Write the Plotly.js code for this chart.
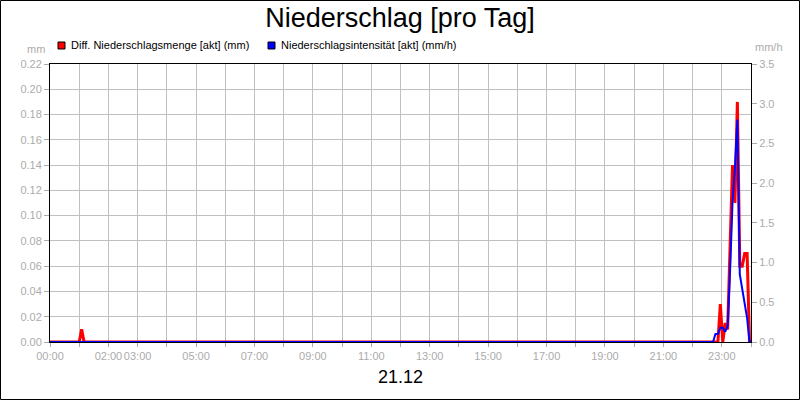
<!DOCTYPE html>
<html><head><meta charset="utf-8">
<script src="https://cdn.plot.ly/plotly-3.0.1.min.js"></script>
<style>html,body{margin:0;padding:0;background:#fff}#chart{width:800px;height:400px}</style>
</head><body><div id="chart"></div>
<script>
const chartTitle = 'Niederschlag [pro Tag]';
const dateLabel = '21.12';
const leftUnit = 'mm';
const rightUnit = 'mm/h';
const seriesNames = ['Diff. Niederschlagsmenge [akt] (mm)', 'Niederschlagsintensität [akt] (mm/h)'];

const amountTimes  = ['00:00','01:00','01:05','01:10','22:52','22:57','23:02','23:07','23:12','23:17','23:22','23:27','23:32','23:37','23:42','23:47','23:52','23:57','24:00'];
const amountValues = [0,      0,      0.01,   0,      0,      0.03,   0,      0.015,  0.01,   0.07,   0.14,   0.11,   0.19,   0.06,   0.06,   0.07,   0.07,   0,      0];

const intensityTimes  = ['00:00','22:42','22:47','22:52','22:57','23:02','23:07','23:12','23:17','23:22','23:27','23:32','23:37','23:42','23:47','23:52','23:57','24:00'];
const intensityValues = [0,      0,      0.1,    0.1,    0.18,   0.18,   0.13,   0.2,    0.9,    1.75,   2.2,    2.8,    0.85,   0.65,   0.5,    0.3,    0,      0];

const hourTicks = ['00:00','01:00','02:00','03:00','04:00','05:00','06:00','07:00','08:00','09:00','10:00','11:00','12:00','13:00','14:00','15:00','16:00','17:00','18:00','19:00','20:00','21:00','22:00','23:00','24:00'];
const shownTickLabels = ['00:00','02:00','03:00','05:00','07:00','09:00','11:00','13:00','15:00','17:00','19:00','21:00','23:00'];

const toMin = s => { const p = s.split(':'); return (+p[0]) * 60 + (+p[1]); };

// plot area geometry (pixels)
const L = 50, R = 751, T = 64, B = 342;
const px2x = px => (px - L) / (R - L);
const py2y = py => (B - py) / (B - T);

const font = 'Liberation Sans, Arial, sans-serif';
const gray = '#ababab';

const traces = [
  { x: intensityTimes.map(toMin), y: intensityValues, yaxis: 'y2', type: 'scatter', mode: 'lines',
    line: { color: '#0000ff', width: 2 }, name: seriesNames[1], hoverinfo: 'skip' },
  { x: amountTimes.map(toMin), y: amountValues, type: 'scatter', mode: 'lines',
    line: { color: '#ff0000', width: 3 }, name: seriesNames[0], hoverinfo: 'skip' }
];

const layout = {
  width: 800, height: 400,
  margin: { l: L, r: 800 - R, t: T, b: 400 - B, pad: 0 },
  paper_bgcolor: '#fff', plot_bgcolor: '#fff',
  showlegend: false,
  font: { family: font, size: 11, color: gray },
  title: { text: chartTitle, x: 0.5, xref: 'container', xanchor: 'center', y: 1 - 18 / 400, yref: 'container', yanchor: 'middle',
           font: { family: font, size: 27, color: '#000' } },
  xaxis: {
    range: [0, 1440], tickmode: 'array', tickvals: hourTicks.map(toMin),
    ticktext: hourTicks.map(t => shownTickLabels.includes(t) ? t : ''),
    tickangle: 0,
    showgrid: true, gridcolor: '#c0c0c0', gridwidth: 1, zeroline: false,
    showline: true, linecolor: '#000', linewidth: 1, mirror: true,
    ticks: 'outside', ticklen: 4, tickcolor: gray, tickfont: { family: font, size: 11, color: gray },
    fixedrange: true
  },
  yaxis: {
    range: [0, 0.22], dtick: 0.02, tick0: 0, tickformat: '.2f',
    showgrid: true, gridcolor: '#c0c0c0', gridwidth: 1, zeroline: false,
    showline: true, linecolor: '#000', linewidth: 1, mirror: true,
    ticks: 'outside', ticklen: 5, tickcolor: gray, tickfont: { family: font, size: 11, color: gray },
    fixedrange: true
  },
  yaxis2: {
    overlaying: 'y', side: 'right', range: [0, 3.5], dtick: 0.5, tick0: 0, tickformat: '.1f',
    showgrid: false, zeroline: false, showline: false,
    ticks: 'outside', ticklen: 5, tickcolor: gray, tickfont: { family: font, size: 11, color: gray },
    fixedrange: true
  },
  shapes: [
    { type: 'rect', xref: 'paper', yref: 'paper', x0: px2x(58), x1: px2x(65), y0: py2y(49), y1: py2y(42),
      fillcolor: '#ff0000', line: { color: '#000', width: 1 } },
    { type: 'rect', xref: 'paper', yref: 'paper', x0: px2x(268), x1: px2x(275), y0: py2y(49), y1: py2y(42),
      fillcolor: '#0000ff', line: { color: '#000', width: 1 } },
    { type: 'rect', xref: 'paper', yref: 'paper', x0: px2x(0.5), x1: px2x(799.5), y0: py2y(399.5), y1: py2y(0.5),
      fillcolor: 'rgba(0,0,0,0)', line: { color: '#000', width: 1 }, layer: 'above' }
  ],
  annotations: [
    { text: seriesNames[0], xref: 'paper', yref: 'paper', x: px2x(69), y: py2y(45.5), xanchor: 'left', yanchor: 'middle',
      showarrow: false, font: { family: font, size: 11, color: '#000' } },
    { text: seriesNames[1], xref: 'paper', yref: 'paper', x: px2x(279), y: py2y(45.5), xanchor: 'left', yanchor: 'middle',
      showarrow: false, font: { family: font, size: 11, color: '#000' } },
    { text: leftUnit, xref: 'paper', yref: 'paper', x: px2x(47), y: py2y(49), xanchor: 'right', yanchor: 'middle',
      showarrow: false, font: { family: font, size: 11, color: gray } },
    { text: rightUnit, xref: 'paper', yref: 'paper', x: px2x(753), y: py2y(47), xanchor: 'left', yanchor: 'middle',
      showarrow: false, font: { family: font, size: 11, color: gray } },
    { text: dateLabel, xref: 'paper', yref: 'paper', x: 0.5, y: py2y(377), xanchor: 'center', yanchor: 'middle',
      showarrow: false, font: { family: font, size: 18, color: '#000' } }
  ]
};

Plotly.newPlot('chart', traces, layout, { displayModeBar: false, staticPlot: true });
</script>
</body></html>
